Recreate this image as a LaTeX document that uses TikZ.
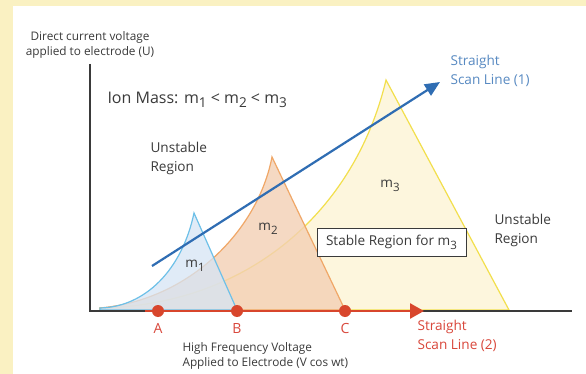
\documentclass[tikz,border=0pt]{standalone}
\usepackage{fontspec}
\setmainfont{Open Sans}
\usepackage{xcolor}
\usetikzlibrary{positioning,arrows.meta}
\definecolor{frameyellow}{HTML}{FAF1C2}
\definecolor{txtgray}{HTML}{3A3A3A}
\definecolor{scanblue}{HTML}{2F6DB3}
\definecolor{scanred}{HTML}{D8462C}
\definecolor{redtxt}{HTML}{D9473B}
\definecolor{onefill}{HTML}{D6E5F5}
\definecolor{oneedge}{HTML}{6DC0E8}
\definecolor{twofill}{HTML}{F3D0B4}
\definecolor{twoedge}{HTML}{F0A767}
\definecolor{threefill}{HTML}{FDF5D8}
\definecolor{threeedge}{HTML}{F2DF4C}
\newcommand{\msub}[1]{\raisebox{-0.55ex}{\scalebox{0.85}{#1}}}

\begin{document}
\begin{tikzpicture}[x=1pt,y=-1pt,
    lbl/.style={font=\fontsize{13.6}{19}\selectfont,text=txtgray,align=left},
    small/.style={font=\fontsize{11.8}{14.5}\selectfont,text=txtgray,align=left},
    dot/.style={circle,fill=scanred,inner sep=0pt,minimum size=12pt}]
  \useasboundingbox (0,0) rectangle (586,374);
  \fill[frameyellow] (0,0) rectangle (586,374);
  \fill[white] (13,6) rectangle (586,374);

  % stability regions
  \def\ystart{308}
  \filldraw[fill=threefill,draw=threeedge,line width=1.2pt,fill opacity=0.85]
    (100,\ystart) .. controls (250,305) and (355,210) .. (386,80) -- (509,310) -- (100,310) -- cycle;
  \filldraw[fill=twofill,draw=twoedge,line width=1.2pt,fill opacity=0.8]
    (100,\ystart) .. controls (190,300) and (258,230) .. (272,157) -- (345,310) -- (100,310) -- cycle;
  \filldraw[fill=onefill,draw=oneedge,line width=1.2pt,fill opacity=0.75]
    (100,\ystart) .. controls (145,307) and (182,270) .. (194,213) -- (237,310) -- (100,310) -- cycle;

  % axes
  \coordinate (O) at (90,311);
  \coordinate (ytop) at (90,64);
  \coordinate (xend) at (572,311);
  \draw[line width=1.5pt,txtgray] (ytop) -- (O) -- (xend);

  % scan line (2)
  \coordinate (r0) at (145,311);
  \coordinate (r1) at (424,311);
  \draw[scanred,line width=2.5pt,-{Triangle[length=14pt,width=15pt]}] (r0) -- (r1);
  \node[dot] (A) at (158,311) {};
  \node[dot] (B) at (237,311) {};
  \node[dot] (C) at (345,311) {};
  \foreach \p in {A,B,C}
    \node[font=\fontsize{14}{16}\selectfont,text=redtxt,below=3pt of \p] {\p};

  % scan line (1)
  \coordinate (b0) at (152,266);
  \coordinate (b1) at (440,82);
  \draw[scanblue,line width=2.2pt,-{Triangle[length=15pt,width=13pt]}] (b0) -- (b1);

  % labels
  \node[small,align=center] (yl) at (90,45) {Direct current voltage\\applied to electrode (U)};
  \node[lbl,font=\fontsize{16}{19}\selectfont,anchor=west] (ion) at (104,100) {Ion Mass: m\msub{1} < m\msub{2} < m\msub{3}};
  \node[lbl,anchor=west] (unl) at (147,158) {Unstable\\Region};
  \node[lbl,anchor=west] (unr) at (491,230) {Unstable\\Region};
  \node[lbl] (m1) at (195,266) {m\msub{1}};
  \node[lbl] (m2) at (268,229) {m\msub{2}};
  \node[lbl] (m3) at (390,186) {m\msub{3}};
  \node[lbl,draw=txtgray,fill=white,line width=0.8pt,minimum width=149pt,minimum height=28pt,inner sep=2pt]
    (stab) at (391.5,242) {Stable Region for m\msub{3}};
  \node[lbl,anchor=west,text=scanblue!80] (s1) at (447,71) {Straight\\Scan Line (1)};
  \node[lbl,anchor=west,text=redtxt] (s2) at (414,336) {Straight\\Scan Line (2)};
  \node[small,anchor=west] (xl) at (179,356) {High Frequency Voltage\\Applied to Electrode (V cos wt)};
\end{tikzpicture}
\end{document}
